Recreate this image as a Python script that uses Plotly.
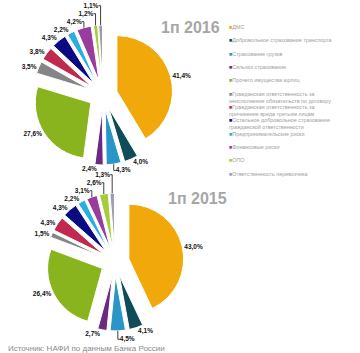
import plotly.graph_objects as go

categories = [
    "ДМС",
    "Добровольное страхование транспорта",
    "Страхование грузов",
    "Сельхоз страхование",
    "Прочего имущества юрлиц",
    "Гражданская ответственность за<br>неисполнение обязательств по договору",
    "Гражданская ответственность за<br>причинение вреда третьим лицам",
    "Остальное добровольное страхование<br>гражданской ответственности",
    "Предпринимательские риски",
    "Финансовые риски",
    "ОПО",
    "Ответственность перевозчика",
]
values_2016 = [41.4, 4.0, 4.3, 2.4, 27.6, 3.5, 3.8, 4.3, 2.2, 4.2, 1.2, 1.1]
values_2015 = [43.0, 4.1, 4.5, 2.7, 26.4, 1.5, 4.3, 4.3, 2.2, 3.1, 2.6, 1.3]
titles = ["1п 2016", "1п 2015"]
source = "Источник: НАФИ по данным Банка России"

colors = ["#F0A80A", "#0F4C58", "#2A96C8", "#6A2A80", "#8AB41E", "#858585",
          "#C2294F", "#0A0A82", "#2AAEE0", "#9A3C9E", "#A6CC3C", "#9C9CAC"]

W, H = 360, 353


def fmt(v):
    return f"{v:.1f}".replace(".", ",") + "%"


def dom(x0, x1, y0, y1):
    return dict(x=[x0 / W, x1 / W], y=[1 - y1 / H, 1 - y0 / H])


fig = go.Figure()
pies = [
    (values_2016, dom(33, 173, 25, 165)),
    (values_2015, dom(46, 184, 193, 331)),
]
for vals, d in pies:
    fig.add_trace(go.Pie(
        labels=[c.replace("<br>", " ") for c in categories],
        values=vals,
        text=[fmt(v) for v in vals],
        textinfo="text",
        textposition="outside",
        textfont=dict(family="Liberation Sans, Arial", size=6.5, color="#111111"),
        texttemplate="<b>%{text}</b>",
        sort=False,
        direction="clockwise",
        rotation=0,
        pull=0.26,
        automargin=False,
        marker=dict(colors=colors, line=dict(color="white", width=1)),
        domain=d,
        showlegend=False,
        hoverinfo="label+percent",
    ))

ann = []
ann.append(dict(x=190 / W, y=1 - 27 / H, xref="paper", yref="paper", text="<b>" + titles[0] + "</b>",
                showarrow=False, font=dict(family="Liberation Sans, Arial", size=16, color="#A6A6A6"),
                xanchor="center", yanchor="middle"))
ann.append(dict(x=197 / W, y=1 - 199 / H, xref="paper", yref="paper", text="<b>" + titles[1] + "</b>",
                showarrow=False, font=dict(family="Liberation Sans, Arial", size=16, color="#A6A6A6"),
                xanchor="center", yanchor="middle"))

legend_tops = [26, 39, 52, 65, 78, 92, 105, 118, 132, 145, 158, 172]
for cat, col, ty in zip(categories, colors, legend_tops):
    ann.append(dict(
        x=227 / W, y=1 - (ty - 3.5) / H, xref="paper", yref="paper",
        text=f'<span style="color:{col}">■</span>{cat}',
        showarrow=False, align="left", xanchor="left", yanchor="top",
        font=dict(family="Liberation Sans, Arial", size=5.4, color="#A0A0A0"),
    ))

ann.append(dict(x=6 / W, y=1 - 348 / H, xref="paper", yref="paper", text=source,
                showarrow=False, xanchor="left", yanchor="middle",
                font=dict(family="Liberation Sans, Arial", size=8, color="#8A8A8A")))

fig.update_layout(
    width=W, height=H,
    margin=dict(l=0, r=0, t=0, b=0, pad=0, autoexpand=False),
    paper_bgcolor="white",
    plot_bgcolor="white",
    showlegend=False,
    annotations=ann,
)

fig.write_html("out.html")
